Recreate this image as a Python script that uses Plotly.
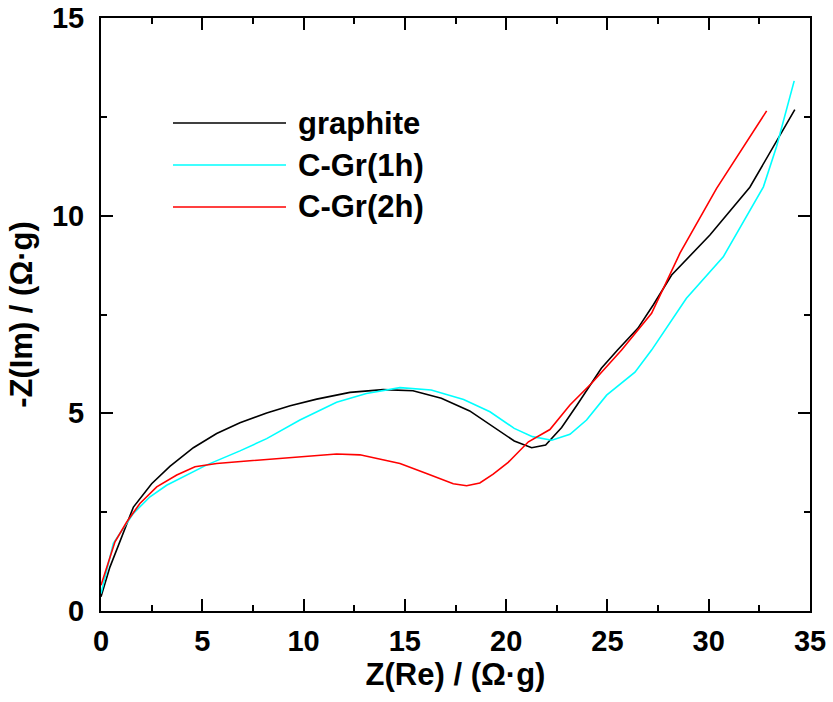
import plotly.graph_objects as go

names = ["graphite", "C-Gr(1h)", "C-Gr(2h)"]
colors = ["#000000", "#00FFFF", "#FF0000"]

x_graphite = [0.0, 0.44, 1.6, 2.5, 3.4, 4.56, 5.71, 6.86, 8.18, 9.34, 10.65, 12.29, 13.93, 15.4,
              16.8, 18.2, 20.4, 21.26, 21.95, 22.74, 23.5, 24.7, 25.5, 26.5, 27.26, 28.17, 30.06, 32.03, 34.25]
y_graphite = [0.36, 1.11, 2.63, 3.22, 3.66, 4.13, 4.49, 4.76, 5.01, 5.19, 5.36, 5.53, 5.6, 5.57,
              5.38, 5.06, 4.3, 4.13, 4.2, 4.64, 5.21, 6.14, 6.6, 7.15, 7.74, 8.5, 9.51, 10.72, 12.68]

x_1h = [0.0, 0.61, 1.6, 2.42, 3.24, 4.23, 5.2, 6.86, 8.18, 9.82, 11.63, 13.1, 14.76, 16.3,
        17.9, 19.2, 20.4, 21.3, 22.25, 23.15, 23.97, 24.96, 26.36, 27.18, 28.9, 30.72, 32.7, 33.35, 34.22]
y_1h = [0.44, 1.71, 2.47, 2.89, 3.18, 3.44, 3.69, 4.05, 4.36, 4.83, 5.28, 5.5, 5.65, 5.59,
        5.35, 5.04, 4.62, 4.41, 4.32, 4.47, 4.83, 5.46, 6.04, 6.6, 7.91, 8.96, 10.73, 11.75, 13.41]

x_2h = [0.0, 0.69, 1.27, 1.92, 2.75, 3.74, 4.64, 5.71, 7.35, 9.33, 11.63, 12.78, 14.76, 16.07,
        17.39, 18.05, 18.7, 19.36, 20.1, 21.1, 22.16, 23.15, 24.22, 25.7, 27.18, 28.58, 30.39, 32.86]
y_2h = [0.65, 1.75, 2.25, 2.72, 3.14, 3.44, 3.65, 3.73, 3.8, 3.88, 3.97, 3.95, 3.73, 3.48,
        3.22, 3.17, 3.24, 3.46, 3.76, 4.28, 4.59, 5.21, 5.76, 6.6, 7.53, 9.05, 10.69, 12.65]

x_ticks = [0, 5, 10, 15, 20, 25, 30, 35]
y_ticks = [0, 5, 10, 15]

series = [(x_graphite, y_graphite), (x_1h, y_1h), (x_2h, y_2h)]

fig = go.Figure()
for (xs, ys), n, c in zip(series, names, colors):
    fig.add_trace(go.Scatter(x=xs, y=ys, mode="lines", name=n,
                             line=dict(color=c, width=1.6), showlegend=False))

font = "Liberation Sans, Arial, sans-serif"

# manual legend (long sample lines as in the reference)
W, H, L, T = 833, 702, 101, 18
pw, ph = 709, 593
def px2paper(px, py):
    return (px - L) / pw, (T + ph - py) / ph
leg_y = [123, 165, 207]
for n, c, py in zip(names, colors, leg_y):
    x0, yv = px2paper(173, py)
    x1, _ = px2paper(286, py)
    xt, _ = px2paper(296, py)
    fig.add_shape(type="line", xref="paper", yref="paper", x0=x0, x1=x1, y0=yv, y1=yv,
                  line=dict(color=c, width=1.6))
    fig.add_annotation(xref="paper", yref="paper", x=xt, y=yv, text="<b>%s</b>" % n,
                       showarrow=False, xanchor="left", yanchor="middle",
                       font=dict(family=font, size=31, color="black"))

axis_common = dict(
    showline=True, linecolor="black", linewidth=2, mirror="ticks",
    ticks="inside", ticklen=12, tickwidth=1.5, tickcolor="black",
    showgrid=False, zeroline=False, automargin=False,
    tickfont=dict(family=font, size=29, color="black"),
)

fig.update_xaxes(range=[0, 35], tickvals=x_ticks, ticktext=["<b>%d</b>" % v for v in x_ticks],
                 ticklabelstandoff=3,
                 minor=dict(ticks="inside", ticklen=6, tickwidth=1.5, tickcolor="black", dtick=2.5),
                 title=dict(text="<b>Z(Re) / (Ω·g)</b>", font=dict(family=font, size=31, color="black"), standoff=3),
                 **axis_common)
fig.update_yaxes(range=[0, 15], tickvals=y_ticks, ticktext=["<b>%d</b>" % v for v in y_ticks],
                 ticklabelstandoff=9,
                 minor=dict(ticks="inside", ticklen=6, tickwidth=1.5, tickcolor="black", dtick=2.5),
                 title=dict(text="<b>-Z(Im) / (Ω·g)</b>", font=dict(family=font, size=31, color="black"), standoff=10),
                 **axis_common)

fig.update_layout(width=W, height=H, margin=dict(l=L, r=W - L - pw, t=T, b=H - T - ph),
                  plot_bgcolor="white", paper_bgcolor="white")

fig.write_html("out.html")
